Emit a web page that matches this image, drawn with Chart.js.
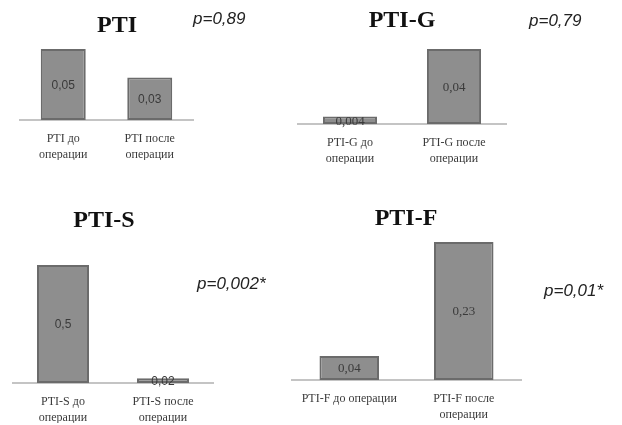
<!DOCTYPE html>
<html>
<head>
<meta charset="utf-8">
<script src="https://cdn.jsdelivr.net/npm/chart.js@4"></script>
<style>
  body { margin: 0; background: #fff; }
  #wrap { position: relative; width: 622px; height: 425px; }
  #wrap canvas { position: absolute; left: 0; top: 0; }
</style>
</head>
<body>
<div id="wrap">
  <canvas id="c1" width="622" height="425"></canvas>
  <canvas id="c2" width="622" height="425"></canvas>
  <canvas id="c3" width="622" height="425"></canvas>
  <canvas id="c4" width="622" height="425"></canvas>
</div>
<script>
// data per panel
const titles = ['PTI', 'PTI-G', 'PTI-S', 'PTI-F']
const pValues = ['p=0,89', 'p=0,79', 'p=0,002*', 'p=0,01*']
const ptiLabels = [['PTI до', 'операции'], ['PTI после', 'операции']]
const ptiGLabels = [['PTI-G до', 'операции'], ['PTI-G после', 'операции']]
const ptiSLabels = [['PTI-S до', 'операции'], ['PTI-S после', 'операции']]
const ptiFLabels = ['PTI-F до операции', ['PTI-F после', 'операции']]
const ptiValues = [0.05, 0.03]
const ptiGValues = [0.004, 0.04]
const ptiSValues = [0.5, 0.02]
const ptiFValues = [0.04, 0.23]

// value labels + title + p-value drawn on each canvas
const annotPlugin = {
    id: 'annot',
    afterDatasetsDraw(chart, args, opts) {
        const ctx = chart.ctx
        ctx.save()
        const meta = chart.getDatasetMeta(0)
        ctx.fillStyle = '#3a3a3a'
        ctx.font = opts.valueFont
        ctx.textAlign = 'center'
        ctx.textBaseline = 'middle'
        meta.data.forEach((bar, i) => {
            const v = chart.data.datasets[0].data[i]
            ctx.fillText(String(v).replace('.', ','), bar.x, (bar.y + bar.base) / 2 + 1)
        })

        ctx.textBaseline = 'alphabetic'
        ctx.fillStyle = '#111'
        ctx.font = 'bold 24px "Liberation Serif", serif'
        ctx.fillText(opts.title, opts.titleX, opts.titleY)

        ctx.textAlign = 'left'
        ctx.fillStyle = '#222'
        ctx.font = 'italic 17px "Liberation Sans", Arial, sans-serif'
        ctx.fillText(opts.p, opts.pX, opts.pY)
        ctx.restore()
    }
}

function makePanel(id, labels, values, cfg) {
    const W = 622, H = 425, axisH = 40
    return new Chart(document.getElementById(id), {
        type: 'bar',
        data: {
            labels: labels,
            datasets: [{
                data: values,
                backgroundColor: '#8e8e8e',
                borderColor: '#6b6b6b',
                borderWidth: 2,
                borderSkipped: false,
                categoryPercentage: 1,
                barPercentage: 0.52,
                clip: false
            }]
        },
        options: {
            responsive: false,
            animation: false,
            events: [],
            layout: {
                padding: {
                    left: cfg.left,
                    right: W - cfg.right,
                    top: cfg.top,
                    bottom: H - cfg.base - axisH
                }
            },
            plugins: {
                legend: { display: false },
                tooltip: { enabled: false },
                annot: {
                    title: cfg.title, titleX: cfg.titleX, titleY: cfg.titleY,
                    p: cfg.p, pX: cfg.pX, pY: cfg.pY,
                    valueFont: cfg.valueFont
                }
            },
            scales: {
                x: {
                    grid: { display: false, drawTicks: false },
                    border: { display: true, color: '#c4c4c4', width: 2 },
                    ticks: {
                        padding: 11,
                        autoSkip: false,
                        maxRotation: 0,
                        color: '#3a3a3a',
                        font: { family: '"Liberation Serif", serif', size: 12, lineHeight: 1.35 }
                    },
                    afterFit: s => { s.height = axisH }
                },
                y: {
                    display: false,
                    min: 0,
                    max: Math.max(...values)
                }
            }
        },
        plugins: [annotPlugin]
    })
}

const sans = '12px "Liberation Sans", Arial, sans-serif'
const serif = '13px "Liberation Serif", serif'

makePanel('c1', ptiLabels, ptiValues, {
    left: 20, right: 193, top: 49, base: 120,
    title: titles[0], titleX: 117, titleY: 32,
    p: pValues[0], pX: 193, pY: 24, valueFont: sans
})
makePanel('c2', ptiGLabels, ptiGValues, {
    left: 298, right: 506, top: 49, base: 124,
    title: titles[1], titleX: 402, titleY: 27,
    p: pValues[1], pX: 529, pY: 26, valueFont: serif
})
makePanel('c3', ptiSLabels, ptiSValues, {
    left: 13, right: 213, top: 265, base: 383,
    title: titles[2], titleX: 104, titleY: 227,
    p: pValues[2], pX: 197, pY: 289, valueFont: sans
})
makePanel('c4', ptiFLabels, ptiFValues, {
    left: 292, right: 521, top: 242, base: 380,
    title: titles[3], titleX: 406, titleY: 225,
    p: pValues[3], pX: 544, pY: 296, valueFont: serif
})
</script>
</body>
</html>
